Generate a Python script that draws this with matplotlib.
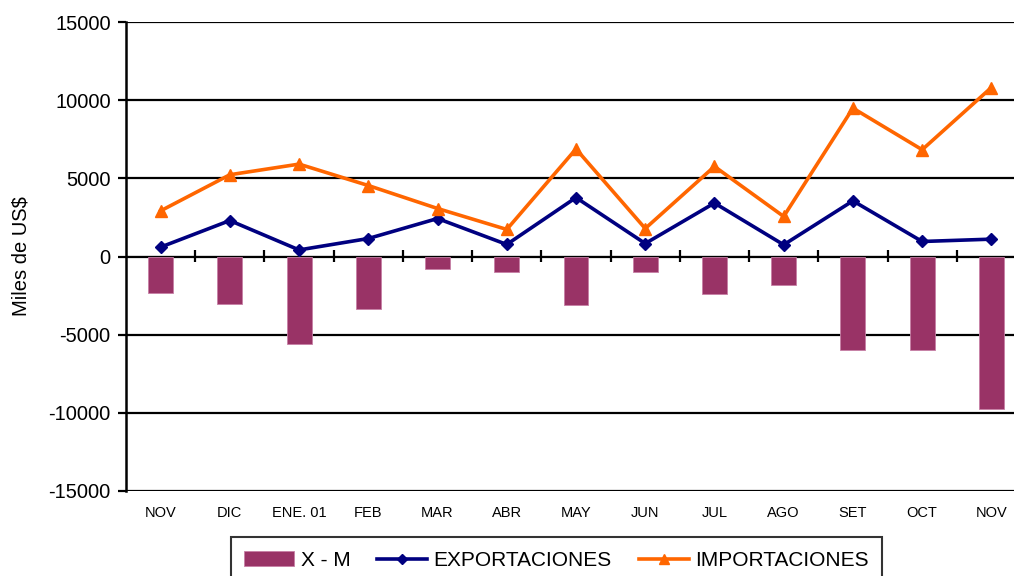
import matplotlib
matplotlib.use("Agg")
import matplotlib.pyplot as plt
import numpy as np

plt.rcParams['font.family'] = ['Liberation Sans', 'DejaVu Sans']
plt.rcParams['axes.unicode_minus'] = False

meses = ["NOV", "DIC", "ENE. 01", "FEB", "MAR", "ABR", "MAY", "JUN", "JUL", "AGO", "SET", "OCT", "NOV"]
exportaciones = [600, 2300, 420, 1150, 2430, 770, 3770, 830, 3420, 750, 3560, 960, 1110]
importaciones = [2920, 5230, 5910, 4540, 3070, 1730, 6880, 1790, 5760, 2560, 9490, 6830, 10810]
saldo = [-2320, -3030, -5600, -3350, -770, -960, -3130, -960, -2380, -1850, -6010, -5950, -9780]

x = np.arange(len(meses))

fig = plt.figure(figsize=(10.14, 5.76), dpi=100)
ax = fig.add_axes([126/1014, 85/576, 900/1014, 469/576])

b = ax.bar(x, saldo, width=0.36, color="#993366", edgecolor="#c77fa6", linewidth=0.6,
           label="X - M", zorder=3)
l1, = ax.plot(x, exportaciones, color="#000080", lw=2.6, marker="D", ms=6.5,
              label="EXPORTACIONES", zorder=4)
l2, = ax.plot(x, importaciones, color="#FF6600", lw=2.6, marker="^", ms=8.5,
              label="IMPORTACIONES", zorder=4)

ax.set_xlim(-0.5, len(meses) - 0.5)
ax.set_ylim(-15000, 15000)
ax.set_yticks(np.arange(-15000, 15001, 5000))
ax.yaxis.grid(True, color="black", lw=1.6)
ax.set_axisbelow(True)

for s in ["top", "right", "bottom"]:
    ax.spines[s].set_visible(False)
ax.spines["left"].set_linewidth(1.8)

ax.tick_params(axis="y", length=6, width=1.6, pad=5, labelsize=14.5)
ax.set_xticks(x)
ax.set_xticklabels(meses)
ax.tick_params(axis="x", length=0, pad=11, labelsize=10.5)

# zero line with ticks between categories
sec = ax.secondary_xaxis(0.5)
sec.spines["bottom"].set_linewidth(2)
sec.set_xticks(np.arange(0.5, len(meses) - 1, 1.0))
sec.set_xticklabels([])
sec.tick_params(axis="x", direction="inout", length=9, width=1.6)

ax.set_ylabel("Miles de US$", fontsize=14.5)
ax.yaxis.set_label_coords(-0.106, 0.5)

leg = fig.legend([b, l1, l2], ["X - M", "EXPORTACIONES", "IMPORTACIONES"],
                 loc="upper center", bbox_to_anchor=(0.549, 0.085), ncol=3,
                 fontsize=15, frameon=True, fancybox=False, handlelength=2.4,
                 columnspacing=1.3, handletextpad=0.3, borderpad=0.65,
                 markerscale=0.8)
leg.get_frame().set_edgecolor("black")
leg.get_frame().set_linewidth(1.5)

fig.savefig("out.png", dpi=100)
